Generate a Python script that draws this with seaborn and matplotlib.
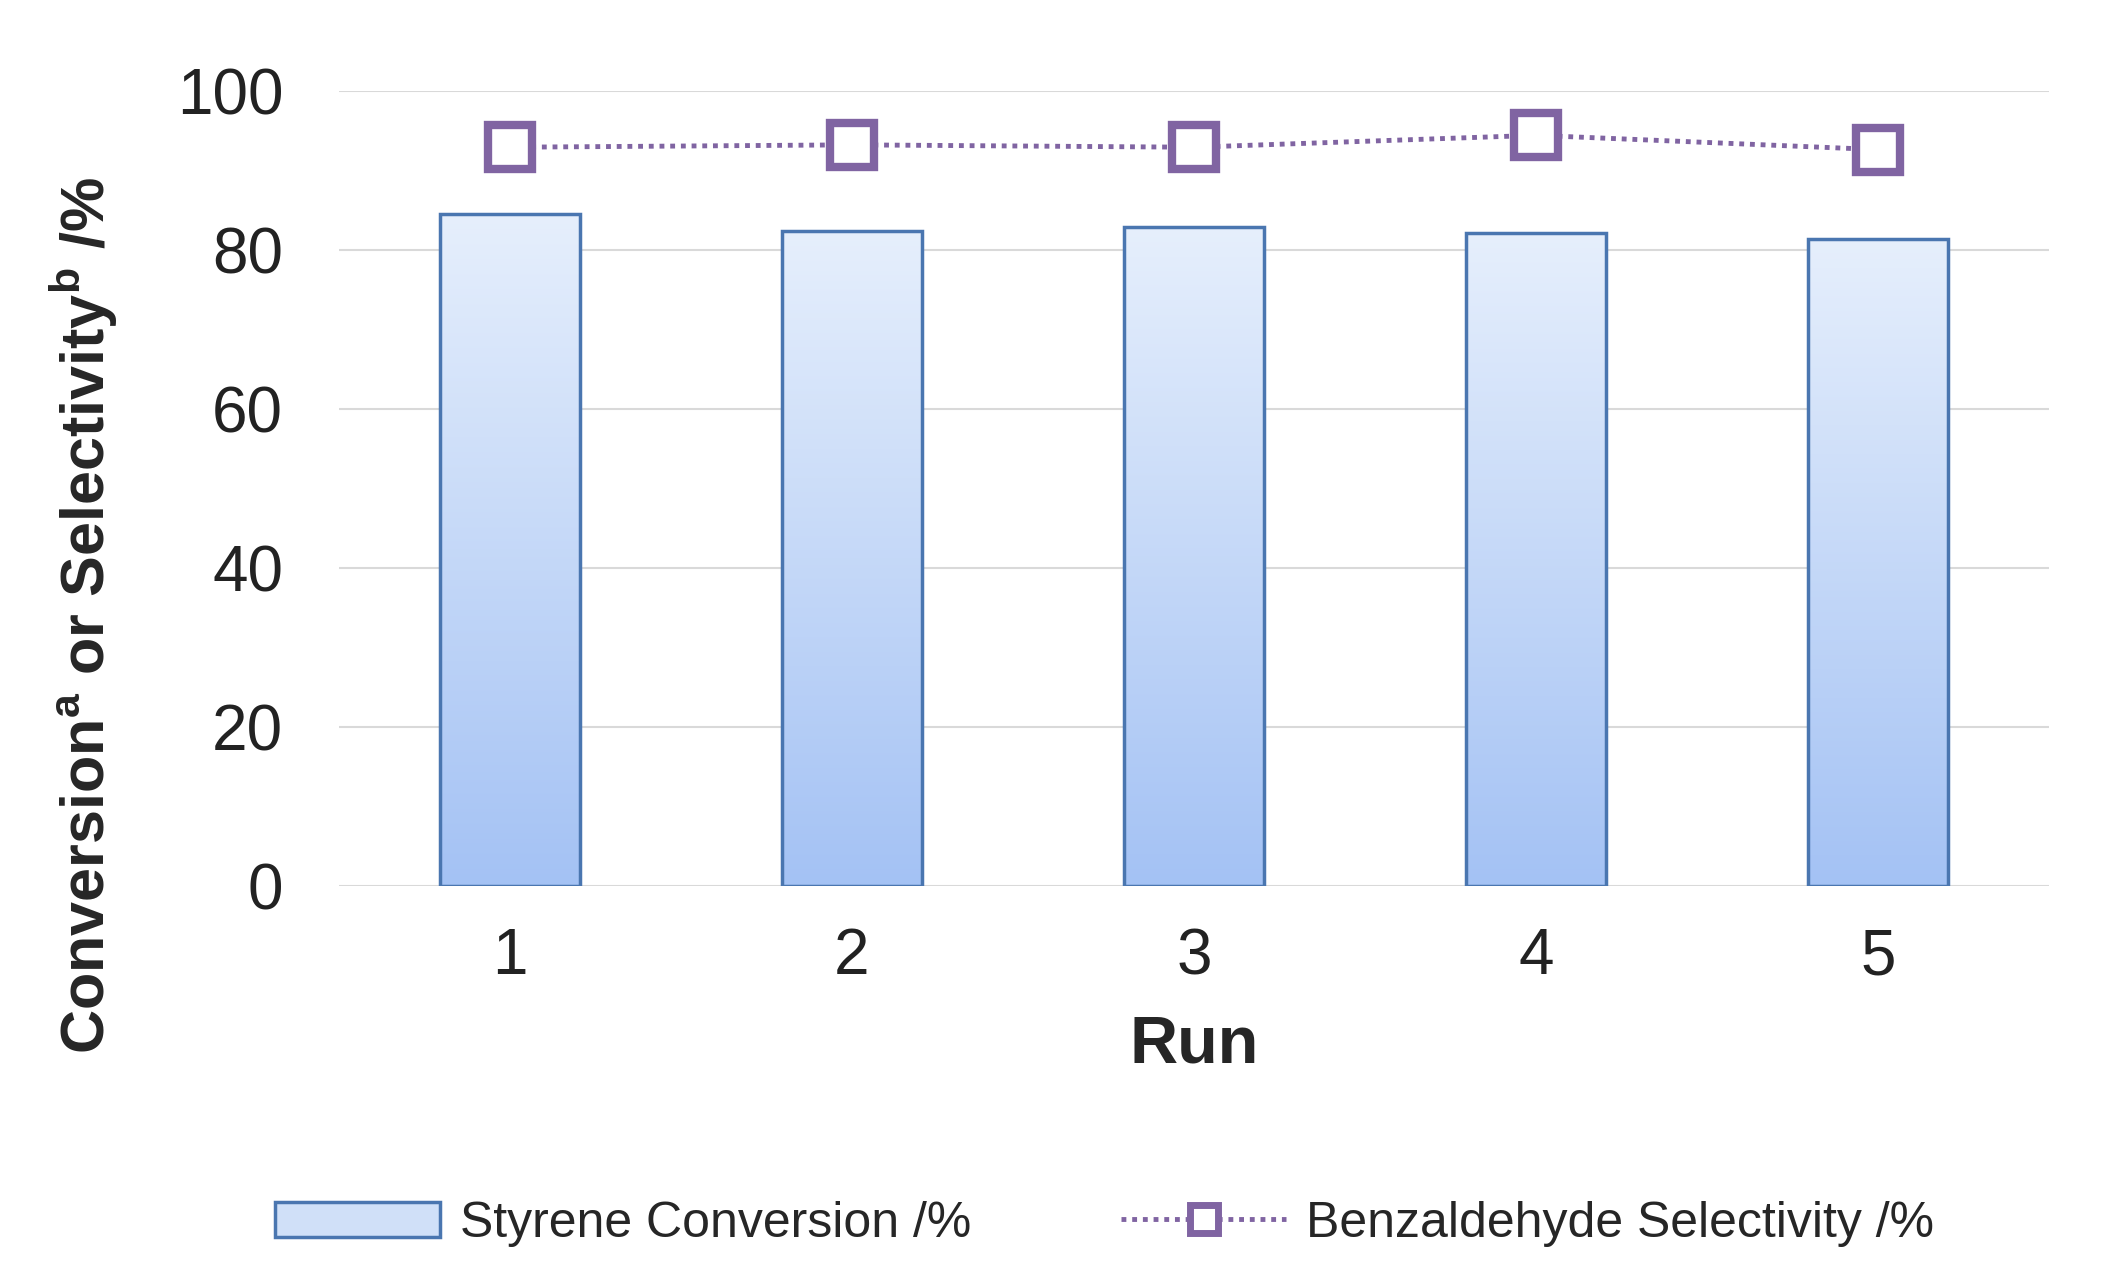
import matplotlib
matplotlib.use("Agg")
import matplotlib.pyplot as plt
import numpy as np
import pandas as pd
import seaborn as sns
from matplotlib.colors import LinearSegmentedColormap
from matplotlib.lines import Line2D
from matplotlib.patches import Patch

runs = ["1", "2", "3", "4", "5"]
conversion = [84.5, 82.4, 82.8, 82.1, 81.4]
selectivity = [92.9, 93.2, 92.9, 94.4, 92.6]

sns.set_theme(style="white")
plt.rcParams["font.family"] = ["Liberation Sans", "DejaVu Sans"]
plt.rcParams["mathtext.fontset"] = "custom"
plt.rcParams["mathtext.bf"] = "Liberation Sans:bold"

df = pd.DataFrame({"run": runs, "conv": conversion, "sel": selectivity})

fig = plt.figure(figsize=(21.04, 12.88), dpi=100)
ax = fig.add_axes([0.161, 0.3125, 0.813, 0.617])

sns.barplot(data=df, x="run", y="conv", ax=ax, width=0.41,
            edgecolor="#4a76b0", linewidth=2.5, zorder=3)

# gradient fill inside each bar
cmap = LinearSegmentedColormap.from_list("g", ["#a4c2f4", "#e6effc"])
grad = np.linspace(0, 1, 256).reshape(-1, 1)
for p in ax.patches:
    p.set_facecolor("none")
    x0, y0, w, h = p.get_x(), p.get_y(), p.get_width(), p.get_height()
    im = ax.imshow(grad, cmap=cmap, aspect="auto", origin="lower",
                   extent=[x0, x0 + w, y0, y0 + h], zorder=2)
    im.set_clip_path(p)

sns.lineplot(x=np.arange(len(runs)), y=df["sel"], ax=ax, color="#8064a2",
             linestyle=(0, (1, 1.2)), linewidth=3.5, marker="s", markersize=32,
             markerfacecolor="white", markeredgecolor="#8064a2",
             markeredgewidth=6, zorder=4)

ax.set_xlim(-0.5, 4.5)
ax.set_ylim(0, 100)
ax.set_yticks(range(0, 101, 20))
ax.yaxis.grid(True, color="#d9d9d9", linewidth=1.5)
ax.set_axisbelow(True)
for s in ax.spines.values():
    s.set_visible(False)
ax.axhline(0, color="#d9d9d9", linewidth=2, zorder=1)
ax.tick_params(axis="y", labelsize=46, colors="#222222", length=0, pad=40)
ax.tick_params(axis="x", labelsize=46, colors="#222222", length=0, pad=30)
ax.set_xlabel("Run", fontsize=48, fontweight="bold", labelpad=20)
ax.set_ylabel(r"Conversion$^{\mathbf{a}}$ or Selectivity$^{\mathbf{b}}$ /%",
              fontsize=44, fontweight="bold", labelpad=20)
ax.yaxis.set_label_coords(-0.128, 0.34)

handles = [Patch(facecolor="#d0e0f8", edgecolor="#4a76b0", linewidth=2.5),
           Line2D([0], [0], color="#8064a2", linestyle=(0, (1, 1.2)), linewidth=3.5,
                  marker="s", markersize=20, markerfacecolor="white",
                  markeredgewidth=5)]
fig.legend(handles, ["Styrene Conversion /%", "Benzaldehyde Selectivity /%"],
           loc="center", bbox_to_anchor=(0.525, 0.05), ncol=2, frameon=False,
           fontsize=36, handlelength=3.3, handletextpad=0.4, columnspacing=3)

fig.savefig("out.png", dpi=100)
